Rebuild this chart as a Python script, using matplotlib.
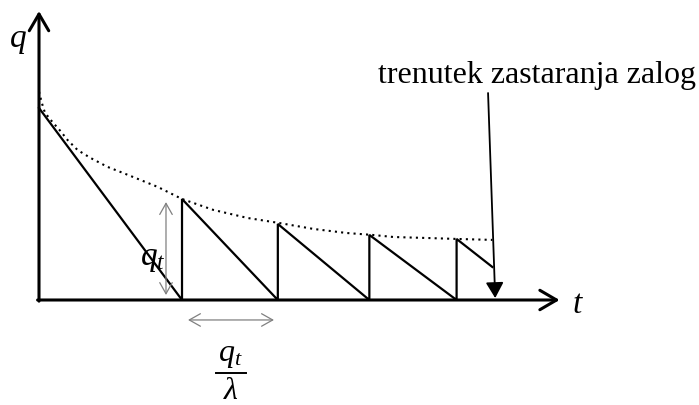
import matplotlib
matplotlib.use('Agg')
import matplotlib.pyplot as plt

plt.rcParams['font.family'] = ['Liberation Serif', 'DejaVu Serif']
plt.rcParams['mathtext.fontset'] = 'custom'
plt.rcParams['mathtext.rm'] = 'Liberation Serif'
plt.rcParams['mathtext.it'] = 'Liberation Serif:italic'

# reorder moments and stock level right after each delivery
order_t = [0.0, 10.0, 16.7, 23.1, 29.2]
order_q = [100.0, 52.6, 39.6, 33.9, 31.8]
# moment the stock becomes obsolete
end_t = 31.7
end_q = 17.2

# dotted envelope (optimal order quantity over time)
curve_t = [0.0, 0.2, 0.4, 0.7, 1.0, 1.5, 2.0, 2.7, 3.6, 4.8, 5.9, 7.1, 8.3,
           10.0, 12.2, 14.6, 16.8, 19.2, 21.5, 23.3, 24.8, 27.1, 29.2, 31.7]
curve_q = [108.5, 102.6, 97.9, 94.8, 92.2, 88.0, 83.3, 78.1, 74.0, 69.3, 66.1,
           62.5, 58.9, 52.6, 46.9, 42.7, 40.1, 37.0, 34.9, 33.9, 32.8, 32.3,
           31.8, 31.3]

# build the sawtooth from the order data
saw_t, saw_q = [], []
for i, (t0, q0) in enumerate(zip(order_t, order_q)):
    saw_t.append(t0)
    saw_q.append(q0)
    if i + 1 < len(order_t):
        saw_t.append(order_t[i + 1])
        saw_q.append(0.0)
saw_t.append(end_t)
saw_q.append(end_q)

fig = plt.figure(figsize=(6.99, 4.05), dpi=100)
ax = fig.add_axes([0, 0, 1, 1])
ax.set_xlim(-2.727, 46.15)
ax.set_ylim(-54.69, 156.25)
ax.axis('off')

ax.plot(curve_t, curve_q, color='black', linestyle=(0, (1, 2)), linewidth=1.5)
ax.plot(saw_t, saw_q, color='black', linewidth=1.6, solid_joinstyle='miter')

# axes with open arrow heads
axis_style = dict(arrowstyle='->,head_length=12,head_width=7', color='black',
                  linewidth=2.2, shrinkA=0, shrinkB=0, mutation_scale=1)
ax.annotate('', xy=(36.4, 0), xytext=(-0.1, 0), arrowprops=axis_style)
ax.annotate('', xy=(0, 150.5), xytext=(0, -0.6), arrowprops=axis_style)
ax.text(-1.47, 136.0, 'q', fontsize=24, style='italic', ha='center', va='center')
ax.text(37.6, -2.6, 't', fontsize=24, style='italic', ha='center', va='center')

# q_t dimension arrow
gray_style = dict(arrowstyle='<->,head_length=8,head_width=4.5', color='#808080',
                  linewidth=0.9, shrinkA=0, shrinkB=0, mutation_scale=1)
ax.annotate('', xy=(8.88, 51.0), xytext=(8.88, 2.6), arrowprops=gray_style)
ax.text(7.97, 21.5, '$q_t$', fontsize=24, ha='center', va='center')

# q_t / lambda dimension arrow with a stacked fraction below it
ax.annotate('', xy=(16.43, -10.4), xytext=(10.42, -10.4), arrowprops=gray_style)
frac_t = 13.4
ax.text(frac_t, -29.0, '$q_t$', fontsize=23, ha='center', va='center')
ax.plot([frac_t - 1.05, frac_t + 1.05], [-38.0, -38.0], color='black', linewidth=1.4)
ax.text(frac_t, -47.5, r'$\lambda$', fontsize=23, ha='center', va='center')

# obsolescence marker
ax.text(34.8, 113.0, 'trenutek zastaranja zalog', fontsize=23,
        ha='center', va='baseline')
ax.annotate('', xy=(31.9, 1.0), xytext=(31.4, 107.8),
            arrowprops=dict(arrowstyle='-|>,head_length=9.5,head_width=5.4',
                            color='black', linewidth=1.3, mutation_scale=1,
                            shrinkA=0, shrinkB=0))

fig.savefig('out.png', dpi=100)
